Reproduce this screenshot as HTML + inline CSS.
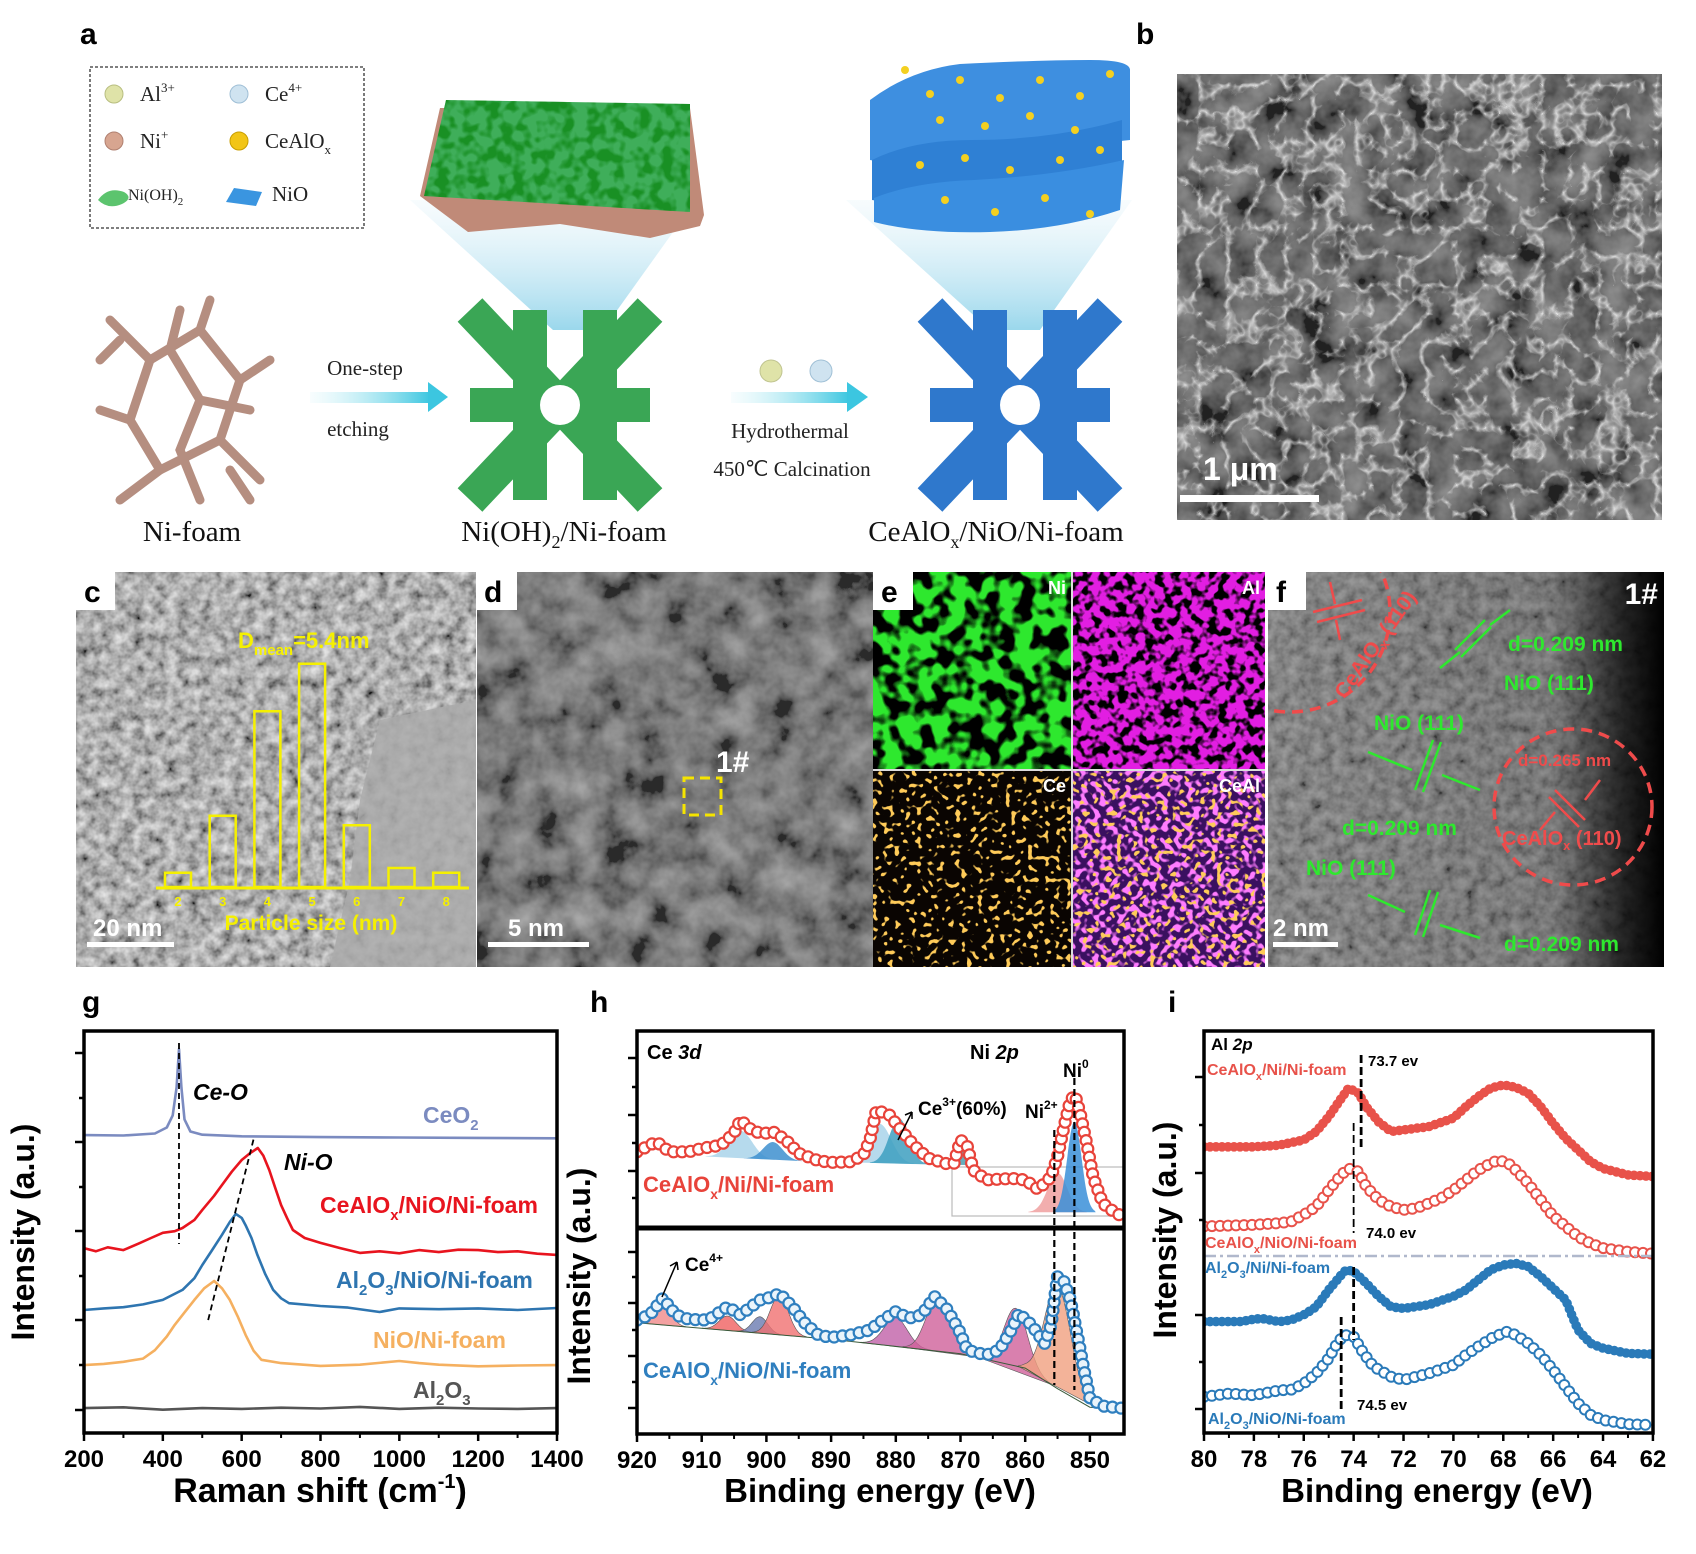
<!DOCTYPE html>
<html><head><meta charset="utf-8">
<style>
html,body{margin:0;padding:0;background:#fff;}
svg{display:block;}
text{font-family:"Liberation Sans",Arial,sans-serif;}
.serif{font-family:"Liberation Serif","Times New Roman",serif;}
</style></head>
<body>
<svg id="fig" xmlns="http://www.w3.org/2000/svg" width="1696" height="1554" viewBox="0 0 1696 1554">
<defs>
<filter id="fGray" x="0" y="0" width="1" height="1"><feTurbulence type="fractalNoise" baseFrequency="0.03" numOctaves="4" seed="5"/><feColorMatrix values="1.4 0 0 0 -0.35  1.4 0 0 0 -0.35  1.4 0 0 0 -0.35  0 0 0 0 1"/></filter>
<filter id="fSem" x="0" y="0" width="1" height="1"><feTurbulence type="turbulence" baseFrequency="0.035" numOctaves="3" seed="9"/><feColorMatrix values="0 0 0 0 1  0 0 0 0 1  0 0 0 0 1  -4 0 0 0 1.0"/></filter>
<filter id="fTem" x="0" y="0" width="1" height="1"><feTurbulence type="fractalNoise" baseFrequency="0.09" numOctaves="3" seed="2"/><feColorMatrix values="1.3 0 0 0 -0.15  1.3 0 0 0 -0.15  1.3 0 0 0 -0.15  0 0 0 0 1"/></filter>
<filter id="fBlk" x="0" y="0" width="1" height="1"><feTurbulence type="fractalNoise" baseFrequency="0.06" numOctaves="2" seed="3"/><feColorMatrix values="0 0 0 0 0  0 0 0 0 0  0 0 0 0 0  7 0 0 0 -3.1"/></filter>
<filter id="fBlk2" x="0" y="0" width="1" height="1"><feTurbulence type="fractalNoise" baseFrequency="0.11" numOctaves="2" seed="7"/><feColorMatrix values="0 0 0 0 0  0 0 0 0 0  0 0 0 0 0  7 0 0 0 -3.3"/></filter>
<filter id="fDots" x="0" y="0" width="1" height="1"><feTurbulence type="fractalNoise" baseFrequency="0.18" numOctaves="1" seed="11"/><feColorMatrix values="0 0 0 0 1  0 0 0 0 0.6  0 0 0 0 0.1  14 0 0 0 -8.2"/></filter>
<filter id="fDots2" x="0" y="0" width="1" height="1"><feTurbulence type="fractalNoise" baseFrequency="0.16" numOctaves="1" seed="21"/><feColorMatrix values="0 0 0 0 1  0 0 0 0 0.2  0 0 0 0 1  10 0 0 0 -5.0"/></filter>
<filter id="fLeaf" x="0" y="0" width="1" height="1"><feTurbulence type="fractalNoise" baseFrequency="0.08" numOctaves="2" seed="4"/><feColorMatrix values="0 0 0 0 0  0 0 0 0 0.2  0 0 0 0 0  5 0 0 0 -2.2"/></filter>
<linearGradient id="cone" x1="0" y1="0" x2="0" y2="1"><stop offset="0" stop-color="#d8eef7" stop-opacity="0.2"/><stop offset="1" stop-color="#8fd3ea" stop-opacity="0.9"/></linearGradient>
<linearGradient id="arr" x1="0" y1="0" x2="1" y2="0"><stop offset="0" stop-color="#b7ecf4" stop-opacity="0.1"/><stop offset="1" stop-color="#3cc6e0"/></linearGradient>
<linearGradient id="fdark" x1="0" y1="0" x2="1" y2="0"><stop offset="0" stop-color="#000" stop-opacity="0"/><stop offset="0.72" stop-color="#000" stop-opacity="0.1"/><stop offset="0.9" stop-color="#000" stop-opacity="0.75"/><stop offset="1" stop-color="#000" stop-opacity="1"/></linearGradient>
<clipPath id="clipF"><rect x="1268" y="572" width="396" height="395"/></clipPath>
<clipPath id="clipG"><rect x="84" y="1031" width="473" height="402"/></clipPath>
<clipPath id="clipHU"><rect x="637" y="1031" width="487" height="197"/></clipPath>
<clipPath id="clipHL"><rect x="637" y="1228" width="487" height="206"/></clipPath>
<clipPath id="clipI"><rect x="1204" y="1031" width="449" height="402"/></clipPath>
<clipPath id="clipLeaf"><polygon points="424,196 690,212 690,104 446,100"/></clipPath>
</defs>

<!-- ============ PANEL A ============ -->
<g>
<text x="80" y="44" font-size="30" font-weight="bold">a</text>
<rect x="90" y="67" width="274" height="161" fill="none" stroke="#333" stroke-width="1.3" stroke-dasharray="3,2"/>
<g class="serif" font-size="21" fill="#222">
<circle cx="114" cy="94" r="9" fill="#dfe3a8" stroke="#b8be80"/><text x="140" y="101" class="serif">Al<tspan font-size="13" dy="-9">3+</tspan></text>
<circle cx="239" cy="94" r="9" fill="#cfe3f0" stroke="#9fbfd6"/><text x="265" y="101" class="serif">Ce<tspan font-size="13" dy="-9">4+</tspan></text>
<circle cx="114" cy="141" r="9" fill="#d7a590" stroke="#b08070"/><text x="140" y="148" class="serif">Ni<tspan font-size="13" dy="-9">+</tspan></text>
<circle cx="239" cy="141" r="9" fill="#f2c516" stroke="#c89e00"/><text x="265" y="148" class="serif">CeAlO<tspan font-size="13" dy="6">x</tspan></text>
<path d="M98 200 q10 -14 26 -8 q10 6 -2 12 q-14 6 -24 -4z" fill="#5cc46e"/><text x="128" y="200" font-size="16" class="serif">Ni(OH)<tspan font-size="11" dy="5">2</tspan></text>
<path d="M226 202 l8 -14 l28 4 l-6 14z" fill="#3a95e0"/><text x="272" y="201" class="serif">NiO</text>
</g>
<polygon points="410,200 696,200 603,330 553,330" fill="url(#cone)"/>
<polygon points="846,200 1132,200 1040,330 990,330" fill="url(#cone)"/>
<g>
<polygon points="420,196 468,232 560,224 650,238 700,226 704,215 690,108 440,108" fill="#c08a78"/>
<polygon points="424,196 690,212 690,104 446,100" fill="#3fae5a"/>
<rect x="424" y="100" width="268" height="112" fill="#000" filter="url(#fLeaf)" opacity="0.6" clip-path="url(#clipLeaf)"/>
</g>
<g>
<path d="M870 100 q40 -30 90 -36 q80 -4 130 -4 q40 0 40 10 l0 70 q-60 6 -130 20 q-80 10 -130 0z" fill="#3e8fe0"/>
<path d="M872 160 q40 -20 100 -20 q80 0 150 -20 l0 60 q-60 10 -130 20 q-80 6 -120 0z" fill="#2f80d4"/>
<path d="M874 198 q40 -16 100 -18 q80 -4 150 -20 l-4 50 q-60 20 -130 22 q-70 2 -116 -10z" fill="#3a8ee0"/>
<g fill="#f4d020"><circle cx="905" cy="70" r="4"/><circle cx="930" cy="94" r="4"/><circle cx="960" cy="80" r="4"/><circle cx="1000" cy="98" r="4"/><circle cx="1040" cy="80" r="4"/><circle cx="1080" cy="96" r="4"/><circle cx="1110" cy="74" r="4"/><circle cx="940" cy="120" r="4"/><circle cx="985" cy="126" r="4"/><circle cx="1030" cy="116" r="4"/><circle cx="1075" cy="130" r="4"/><circle cx="920" cy="165" r="4"/><circle cx="965" cy="158" r="4"/><circle cx="1010" cy="170" r="4"/><circle cx="1060" cy="160" r="4"/><circle cx="1100" cy="150" r="4"/><circle cx="945" cy="200" r="4"/><circle cx="995" cy="212" r="4"/><circle cx="1045" cy="198" r="4"/><circle cx="1090" cy="214" r="4"/></g>
</g>
<g stroke="#b58e80" stroke-width="9" stroke-linecap="round" fill="none">
<path d="M110 320 L150 360 L130 420 L160 470 L120 500"/><path d="M150 360 L200 330 L240 380 L220 440 L260 480"/><path d="M200 330 L210 300"/><path d="M240 380 L270 360"/><path d="M130 420 L100 410"/><path d="M160 470 L220 440"/><path d="M180 310 L170 350 L200 400 L180 450 L200 500"/><path d="M200 400 L250 410"/><path d="M120 340 L100 360"/><path d="M230 470 L250 500"/>
</g>
<g>
<path d="M470 310 L650 500 M650 310 L470 500 M470 405 L650 405 M530 310 L530 500 M600 310 L600 500" stroke="#3aa655" stroke-width="34" fill="none"/>
<circle cx="560" cy="405" r="20" fill="#fff"/>
</g>
<g>
<path d="M930 310 L1110 500 M1110 310 L930 500 M930 405 L1110 405 M990 310 L990 500 M1060 310 L1060 500" stroke="#2f78cc" stroke-width="34" fill="none"/>
<circle cx="1020" cy="405" r="20" fill="#fff"/>
</g>
<g><rect x="310" y="392" width="120" height="11" fill="url(#arr)"/><polygon points="428,382 448,397 428,412" fill="#3cc6e0"/></g>
<g><rect x="731" y="392" width="118" height="11" fill="url(#arr)"/><polygon points="847,382 868,397 847,412" fill="#3cc6e0"/></g>
<circle cx="771" cy="371" r="11" fill="#dfe3a8" stroke="#c0c490"/>
<circle cx="821" cy="371" r="11" fill="#cfe3f0" stroke="#a0c0d6"/>
<g class="serif" fill="#222" font-size="21">
<text x="365" y="375" text-anchor="middle" class="serif">One-step</text>
<text x="358" y="436" text-anchor="middle" class="serif">etching</text>
<text x="790" y="438" text-anchor="middle" class="serif">Hydrothermal</text>
<text x="792" y="476" text-anchor="middle" class="serif">450℃ Calcination</text>
</g>
<g class="serif" fill="#111" font-size="29">
<text x="192" y="541" text-anchor="middle" class="serif">Ni-foam</text>
<text x="564" y="541" text-anchor="middle" class="serif">Ni(OH)<tspan font-size="18" dy="7">2</tspan><tspan dy="-7">/Ni-foam</tspan></text>
<text x="996" y="541" text-anchor="middle" class="serif">CeAlO<tspan font-size="18" dy="7">x</tspan><tspan dy="-7">/NiO/Ni-foam</tspan></text>
</g>
</g>

<!-- ============ PANEL B ============ -->
<g>
<text x="1136" y="44" font-size="30" font-weight="bold">b</text>
<rect x="1177" y="74" width="485" height="446" fill="#3e3e3e"/>
<rect x="1177" y="74" width="485" height="446" fill="#777" filter="url(#fGray)" opacity="0.45"/>
<rect x="1177" y="74" width="485" height="446" fill="#fff" filter="url(#fSem)" opacity="0.75"/>
<text x="1203" y="480" font-size="32" font-weight="bold" fill="#fff">1 μm</text>
<rect x="1180" y="495" width="139" height="7" fill="#fff"/>
</g>

<!-- ============ PANEL C ============ -->
<g>
<rect x="76" y="572" width="400" height="395" fill="#7a7a7a"/>
<rect x="76" y="572" width="400" height="395" fill="#888" filter="url(#fTem)" opacity="0.8"/>
<polygon points="380,720 476,700 476,967 330,967 350,880 360,800" fill="#aaa" opacity="0.85"/>
<rect x="76" y="572" width="39" height="38" fill="#fff"/>
<text x="84" y="602" font-size="30" font-weight="bold">c</text>
<g id="hist"></g>
<text x="93" y="936" font-size="24" font-weight="bold" fill="#fff">20 nm</text>
<rect x="87" y="942" width="87" height="5" fill="#fff"/>
</g>

<!-- ============ PANEL D ============ -->
<g>
<rect x="477" y="572" width="397" height="395" fill="#555"/>
<rect x="477" y="572" width="397" height="395" fill="#777" filter="url(#fGray)" opacity="0.5"/>
<rect x="477" y="572" width="40" height="38" fill="#fff"/>
<text x="484" y="602" font-size="30" font-weight="bold">d</text>
<text x="716" y="772" font-size="30" font-weight="bold" fill="#fff">1#</text>
<rect x="684" y="778" width="37" height="37" fill="none" stroke="#f5e400" stroke-width="3" stroke-dasharray="10,6"/>
<text x="508" y="936" font-size="24" font-weight="bold" fill="#fff">5 nm</text>
<rect x="488" y="942" width="101" height="5" fill="#fff"/>
</g>

<!-- ============ PANEL E ============ -->
<g>
<rect x="873" y="572" width="198" height="197" fill="#2ee82e"/>
<rect x="873" y="572" width="198" height="197" fill="#000" filter="url(#fBlk)"/>
<rect x="1073" y="572" width="192" height="197" fill="#e21ee2"/>
<rect x="1073" y="572" width="192" height="197" fill="#000" filter="url(#fBlk2)"/>
<rect x="873" y="771" width="198" height="196" fill="#0a0502"/>
<rect x="873" y="771" width="198" height="196" fill="#000" filter="url(#fDots)"/>
<rect x="1073" y="771" width="192" height="196" fill="#3a1060"/>
<rect x="1073" y="771" width="192" height="196" fill="#000" filter="url(#fDots2)"/>
<rect x="1073" y="771" width="192" height="196" fill="#000" filter="url(#fDots)"/>
<rect x="1071" y="572" width="2" height="395" fill="#ddd"/><rect x="873" y="769" width="392" height="2" fill="#ddd"/>
<rect x="873" y="572" width="40" height="38" fill="#fff"/>
<text x="881" y="602" font-size="30" font-weight="bold">e</text>
<g font-size="18" font-weight="bold" fill="#fff" text-anchor="end">
<text x="1066" y="594">Ni</text>
<text x="1260" y="594">Al</text>
<text x="1066" y="792">Ce</text>
<text x="1260" y="792">CeAl</text>
</g>
</g>

<!-- ============ PANEL F ============ -->
<g>
<rect x="1268" y="572" width="396" height="395" fill="#606060"/>
<rect x="1268" y="572" width="396" height="395" fill="#666" filter="url(#fTem)" opacity="0.4"/>
<rect x="1268" y="572" width="396" height="395" fill="url(#fdark)"/>
<g clip-path="url(#clipF)">
<circle cx="1290" cy="612" r="100" fill="none" stroke="#ef4b4b" stroke-width="3.5" stroke-dasharray="11,7"/>
</g>
<ellipse cx="1573" cy="807" rx="79" ry="78" fill="none" stroke="#ef4b4b" stroke-width="3.5" stroke-dasharray="11,7"/>
<rect x="1268" y="572" width="38" height="38" fill="#fff"/>
<text x="1276" y="602" font-size="30" font-weight="bold">f</text>
<text x="1658" y="604" font-size="30" font-weight="bold" fill="#fff" text-anchor="end">1#</text>
<text transform="translate(1345,700) rotate(-55)" font-size="21" font-weight="bold" fill="#ef4b4b">CeAlO<tspan font-size="14" dy="5">x</tspan><tspan dy="-5"> (110)</tspan></text>
<g stroke="#ef4b4b" stroke-width="2.5" fill="none"><path d="M1313 612 L1362 600 M1317 622 L1365 610 M1330 582 L1335 604 M1340 640 L1336 620"/></g>
<g stroke="#2ee82e" stroke-width="2.5" fill="none">
<path d="M1455 650 L1485 620 M1461 657 L1491 627"/><path d="M1510 610 L1490 625 M1440 668 L1460 652"/>
<path d="M1415 790 L1433 740 M1423 792 L1441 742"/><path d="M1368 752 L1412 770 M1480 790 L1442 775"/>
<path d="M1415 935 L1430 890 M1423 937 L1438 892"/><path d="M1368 895 L1405 912 M1480 938 L1440 925"/>
</g>
<g stroke="#ef4b4b" stroke-width="2.5" fill="none"><path d="M1555 790 L1585 820 M1549 797 L1579 827 M1600 780 L1585 800 M1540 830 L1555 812"/></g>
<g font-size="21" font-weight="bold" fill="#2ee82e">
<text x="1508" y="651">d=0.209 nm</text>
<text x="1504" y="690">NiO (111)</text>
<text x="1374" y="730">NiO (111)</text>
<text x="1342" y="835">d=0.209 nm</text>
<text x="1306" y="875">NiO (111)</text>
<text x="1504" y="951">d=0.209 nm</text>
</g>
<text x="1518" y="766" font-size="17" font-weight="bold" fill="#ef4b4b">d=0.265 nm</text>
<text x="1502" y="845" font-size="20" font-weight="bold" fill="#ef4b4b">CeAlO<tspan font-size="13" dy="5">x</tspan><tspan dy="-5"> (110)</tspan></text>
<text x="1273" y="936" font-size="24" font-weight="bold" fill="#fff">2 nm</text>
<rect x="1273" y="942" width="65" height="5" fill="#fff"/>
</g>

<!-- ============ CHART PANELS ============ -->
<text x="82" y="1012" font-size="30" font-weight="bold">g</text>
<text x="590" y="1012" font-size="30" font-weight="bold">h</text>
<text x="1168" y="1012" font-size="30" font-weight="bold">i</text>
<g id="chartG"></g>
<g id="chartH"></g>
<g id="chartI"></g>
</svg>

<script>
// ---------- histogram data (panel c) ----------
const histSizes = [2, 3, 4, 5, 6, 7, 8];
const histCounts = [3, 15, 37, 47, 13, 4, 3];

// ---------- Raman data (panel g) ----------
const ramanTicks = [200, 400, 600, 800, 1000, 1200, 1400];
const ramanCeO2 = [[200,7.41],[300,7.40],[380,7.45],[410,7.6],[425,7.9],[435,8.6],[441,9.55],[447,8.6],[455,7.8],[470,7.5],[500,7.42],[600,7.38],[800,7.36],[1000,7.35],[1200,7.34],[1400,7.33]];
const ramanCeAlOx = [[200,4.60],[230,4.52],[260,4.62],[300,4.55],[340,4.72],[370,4.85],[400,4.98],[430,5.02],[450,5.10],[480,5.30],[500,5.55],[530,5.90],[550,6.17],[575,6.50],[600,6.79],[620,6.95],[641,7.09],[655,6.90],[670,6.54],[685,6.10],[700,5.67],[715,5.35],[730,5.05],[760,4.85],[800,4.73],[850,4.60],[900,4.48],[950,4.52],[1000,4.47],[1050,4.55],[1100,4.50],[1150,4.56],[1200,4.55],[1250,4.50],[1300,4.52],[1350,4.46],[1400,4.43]];
const ramanAl2O3NiO = [[200,3.06],[250,3.10],[300,3.13],[350,3.20],[400,3.31],[450,3.56],[480,3.85],[500,4.18],[525,4.55],[550,4.93],[570,5.25],[585,5.45],[600,5.35],[610,5.17],[625,4.85],[640,4.43],[660,3.95],[680,3.56],[700,3.35],[720,3.23],[800,3.16],[870,3.12],[950,3.01],[1000,3.10],[1100,3.08],[1200,3.10],[1300,3.06],[1400,3.11]];
const ramanNiO = [[200,1.69],[250,1.72],[300,1.77],[350,1.85],[380,2.06],[410,2.40],[430,2.69],[455,3.00],[480,3.31],[505,3.60],[530,3.78],[550,3.60],[570,3.31],[590,2.90],[610,2.44],[630,2.05],[650,1.82],[700,1.74],[800,1.67],[900,1.70],[1000,1.79],[1050,1.74],[1100,1.70],[1200,1.66],[1300,1.68],[1400,1.69]];
const ramanAl2O3 = [[200,0.62],[300,0.64],[400,0.58],[500,0.62],[600,0.60],[700,0.63],[800,0.61],[900,0.65],[1000,0.60],[1100,0.63],[1200,0.61],[1300,0.60],[1400,0.62]];

// ---------- XPS Ce 3d / Ni 2p data (panel h) ----------
const xpsHTicks = [920, 910, 900, 890, 880, 870, 860, 850];
const xpsCeNiReduced = [[920,3.87],[917,4.38],[915,3.87],[912,3.87],[910,4.04],[907,4.21],[905,4.81],[904,5.48],[902,4.89],[900,4.81],[899,4.89],[897,4.47],[895,3.79],[892,3.42],[890,3.33],[887,3.36],[885,3.71],[884,4.47],[883,5.99],[881,5.74],[879,4.89],[877,4.13],[875,3.55],[872,3.25],[871,3.28],[870,4.47],[869,4.21],[868,2.94],[866,2.44],[862,2.52],[860,2.44],[858,1.96],[856,2.60],[855,3.62],[854,5.14],[853,6.50],[852.3,6.75],[851.5,5.82],[850.5,4.30],[849.5,2.60],[848,1.25],[846,0.75],[845,0.61]];
const xpsCeNiOxide = [[920,5.53],[918,5.78],[916,6.59],[914,5.78],[912,5.57],[909,5.53],[906,6.18],[904,5.78],[902,6.26],[901,6.50],[899,6.67],[898,6.83],[896,6.18],[894,5.37],[892,4.81],[890,4.69],[887,4.81],[884,5.05],[882,5.53],[880,5.94],[878,5.62],[876,5.78],[874,6.67],[872,6.02],[870,4.89],[869,4.08],[866,3.83],[864,4.08],[862,5.13],[861,5.86],[859,5.29],[857,4.40],[856,5.29],[855,7.64],[854,7.40],[853,6.50],[852,4.89],[851,3.27],[850,1.73],[848,1.36],[845,1.25]];
const fitUpperCenters = [904, 899, 882.5, 879.5, 870, 855, 852.4];
const fitUpperHeights = [1.4, 0.9, 2.0, 2.3, 1.0, 2.0, 4.6];
const fitUpperWidths = [1.8, 1.5, 1.8, 1.5, 0.8, 1.5, 1.1];
const fitUpperColors = ['#a9d3ea','#3d8fcf','#a9d3ea','#3d9fc0','#4a9fb0','#f0a0a0','#3a8fd8'];
const fitLowerCenters = [916, 906, 901, 898, 880, 873.5, 861.5, 855];
const fitLowerHeights = [1.1, 0.7, 0.8, 1.9, 1.4, 2.6, 2.8, 5.0];
const fitLowerWidths = [1.2, 1.3, 1.2, 1.4, 1.8, 1.8, 1.8, 2.0];
const fitLowerColors = ['#f08a8a','#f06060','#6a7ab0','#f07070','#c060a8','#d0609a','#d0609a','#f0a080'];
const upperBaseline = [[920,3.8],[895,3.4],[872,3.2]];
const lowerBaseline = [[920,5.4],[890,4.6],[870,3.9],[860,3.2],[855,2.2],[850,1.3],[845,1.2]];

// ---------- XPS Al 2p data (panel i) ----------
const xpsITicks = [80, 78, 76, 74, 72, 70, 68, 66, 64, 62];
const alCeNi = [[80,7.12],[78,7.12],[77,7.16],[76,7.29],[75.5,7.50],[75,7.87],[74.5,8.32],[74.2,8.58],[73.8,8.45],[73.5,8.12],[73,7.74],[72.5,7.50],[72,7.54],[71,7.62],[70,7.83],[69.5,8.12],[69,8.37],[68.5,8.58],[68,8.66],[67.5,8.60],[67,8.45],[66.5,8.12],[66,7.70],[65.5,7.33],[65,7.04],[64.5,6.75],[64,6.58],[63,6.42],[62,6.38]];
const alCeNiO = [[80,5.14],[78,5.18],[77,5.22],[76.5,5.26],[76,5.43],[75.5,5.63],[75,6.04],[74.5,6.42],[74.2,6.58],[73.8,6.50],[73.5,6.13],[73,5.80],[72.5,5.63],[72,5.55],[71.5,5.59],[71,5.71],[70.5,5.84],[70,6.04],[69.5,6.29],[69,6.54],[68.5,6.71],[68.2,6.79],[67.8,6.71],[67.5,6.54],[67,6.21],[66.5,5.80],[66,5.39],[65.5,5.14],[65,4.88],[64.5,4.72],[64,4.60],[63,4.51],[62,4.46]];
const alAlNi = [[80,2.77],[78.5,2.77],[78,2.83],[77.7,2.85],[77,2.77],[76.5,2.81],[76,2.94],[75.5,3.14],[75,3.56],[74.5,3.93],[74.3,4.06],[74,4.02],[73.5,3.73],[73,3.40],[72.5,3.14],[72,3.10],[71,3.19],[70,3.40],[69.5,3.56],[69,3.81],[68.5,4.06],[68,4.18],[67.5,4.22],[67,4.14],[66.5,3.89],[66,3.60],[65.5,3.31],[65,2.56],[64.5,2.23],[64,2.11],[63,1.98],[62,1.96]];
const alAlNiO = [[80,0.90],[79,0.98],[78,0.94],[77,1.06],[76.5,1.08],[76,1.23],[75.5,1.48],[75,1.86],[74.7,2.19],[74.4,2.44],[74,2.40],[73.6,1.98],[73.2,1.65],[72.5,1.40],[72,1.32],[71,1.48],[70,1.69],[69.5,1.94],[69,2.15],[68.5,2.35],[67.9,2.52],[67.5,2.44],[67,2.23],[66.5,1.94],[66,1.57],[65.5,1.15],[65,0.74],[64.5,0.45],[64,0.32],[63,0.22],[62,0.20]];
const alPeakPositions = [73.7, 74.0, 74.0, 74.5];

// ================= rendering =================
const NS = 'http://www.w3.org/2000/svg';
function mk(tag, parent, attrs) {
  const e = document.createElementNS(NS, tag);
  for (const k in attrs) e.setAttribute(k, attrs[k]);
  parent.appendChild(e);
  return e;
}
function pathD(pts, sx, sy) {
  return pts.map((p, i) => (i ? 'L' : 'M') + sx(p[0]).toFixed(1) + ' ' + sy(p[1]).toFixed(1)).join(' ');
}
function markersAlong(parent, pathEl, step, r, fill, stroke, sw, name) {
  const L = pathEl.getTotalLength();
  for (let s = 0; s <= L; s += step) {
    const p = pathEl.getPointAtLength(s);
    const c = mk('circle', parent, {cx: p.x.toFixed(1), cy: p.y.toFixed(1), r: r, fill: fill, stroke: stroke, 'stroke-width': sw});
    
    
  }
}
function addText(parent, x, y, str, attrs, name) {
  const t = mk('text', parent, Object.assign({x: x, y: y}, attrs));
  t.textContent = str;
  
  
  return t;
}

(function () {
  const g = document.getElementById('hist');
  const hx = s => 178 + (s - 2) * 44.7;
  const hy = c => 887 - c * 4.75;
  histSizes.forEach((s, i) => {
    const b = mk('rect', g, {x: hx(s) - 13, y: hy(histCounts[i]), width: 26, height: 887 - hy(histCounts[i]), fill: 'none', stroke: '#f5f000', 'stroke-width': 2.5});
    
    
    addText(g, hx(s), 906, String(s), {'font-size': 13, 'font-weight': 'bold', fill: '#f5f000', 'text-anchor': 'middle'}, 'histogram-tick-label');
  });
  const ax = mk('line', g, {x1: 156, y1: 888, x2: 469, y2: 888, stroke: '#f5f000', 'stroke-width': 3});
  
  
  addText(g, 311, 930, 'Particle size (nm)', {'font-size': 21, 'font-weight': 'bold', fill: '#f5f000', 'text-anchor': 'middle'}, 'histogram-x-title');
  const t = addText(g, 238, 648, 'D', {'font-size': 22, 'font-weight': 'bold', fill: '#f5f000'}, 'mean-diameter-label');
  const ts = mk('tspan', t, {'font-size': 15, dy: 7}); ts.textContent = 'mean';
  const ts2 = mk('tspan', t, {dy: -7}); ts2.textContent = '=5.4nm';
})();

function xAxis(g, ticks, sx, minorStep, yBase, name) {
  ticks.forEach(v => {
    const l = mk('line', g, {x1: sx(v), y1: yBase, x2: sx(v), y2: yBase + 8, stroke: '#000', 'stroke-width': 2.5});
    
    
    addText(g, sx(v), yBase + 34, String(v), {'font-size': 24, 'font-weight': 'bold', 'text-anchor': 'middle'}, name + '-tick-label');
    const m = v + minorStep;
    if ((minorStep > 0 && m < ticks[ticks.length - 1]) || (minorStep < 0 && m > ticks[ticks.length - 1])) {
      const l2 = mk('line', g, {x1: sx(m), y1: yBase, x2: sx(m), y2: yBase + 5, stroke: '#000', 'stroke-width': 2});
      
      
    }
  });
}
function yTicks(g, x, ys) {
  ys.forEach((y, i) => {
    const l = mk('line', g, {x1: x, y1: y, x2: x - (i % 2 ? 5 : 9), y2: y, stroke: '#000', 'stroke-width': 2.5});
    
    
  });
}
function yTitle(g, x, y) {
  return addText(g, 0, 0, 'Intensity (a.u.)', {'font-size': 32, 'font-weight': 'bold', 'text-anchor': 'middle', transform: 'translate(' + x + ',' + y + ') rotate(-90)'}, 'y-axis-title');
}

// ----- panel g -----
(function () {
  const g = document.getElementById('chartG');
  const sx = v => 84 + (v - 200) / 1200 * 473;
  const sy = u => 1433 - u * 40.2;
  const clip = mk('g', g, {'clip-path': 'url(#clipG)'});
  const series = [[ramanCeO2, '#7b8bc0', 'series-ceo2'], [ramanCeAlOx, '#e8141e', 'series-ceaox-nio'], [ramanAl2O3NiO, '#2e75b0', 'series-al2o3-nio'], [ramanNiO, '#f5b060', 'series-nio'], [ramanAl2O3, '#555555', 'series-al2o3']];
  series.forEach(s => {
    const p = mk('path', clip, {d: pathD(s[0], sx, sy), fill: 'none', stroke: s[1], 'stroke-width': 2.6, 'stroke-linejoin': 'round'});
    
    
  });
  const d1 = mk('line', g, {x1: sx(441), y1: sy(9.7), x2: sx(441), y2: sy(4.7), stroke: '#000', 'stroke-width': 1.8, 'stroke-dasharray': '6,4'});
  
  
  const d2 = mk('line', g, {x1: sx(515), y1: sy(2.81), x2: sx(630), y2: sy(7.3), stroke: '#000', 'stroke-width': 1.8, 'stroke-dasharray': '6,4'});
  
  
  const fr = mk('rect', g, {x: 84, y: 1031, width: 473, height: 402, fill: 'none', stroke: '#000', 'stroke-width': 3.5});
  
  
  xAxis(g, ramanTicks, sx, 100, 1433, 'raman-x');
  yTicks(g, 84, [1053, 1098, 1142, 1187, 1231, 1276, 1320, 1365, 1410]);
  const xt = addText(g, 320, 1502, 'Raman shift (cm', {'font-size': 34, 'font-weight': 'bold', 'text-anchor': 'middle'}, 'x-axis-title');
  const a = mk('tspan', xt, {'font-size': 20, dy: -14}); a.textContent = '-1';
  const b = mk('tspan', xt, {dy: 14}); b.textContent = ')';
  yTitle(g, 34, 1232);
  addText(g, 193, 1100, 'Ce-O', {'font-size': 23, 'font-weight': 'bold', 'font-style': 'italic'}, 'ce-o-label');
  addText(g, 284, 1170, 'Ni-O', {'font-size': 23, 'font-weight': 'bold', 'font-style': 'italic'}, 'ni-o-label');
  const c1 = addText(g, 423, 1123, 'CeO', {'font-size': 23, 'font-weight': 'bold', fill: '#7b8bc0'}, 'ceo2-label');
  const c1s = mk('tspan', c1, {'font-size': 15, dy: 7}); c1s.textContent = '2';
  const c2 = addText(g, 320, 1213, 'CeAlO', {'font-size': 23, 'font-weight': 'bold', fill: '#e8141e'}, 'ceaox-nio-label');
  const c2s = mk('tspan', c2, {'font-size': 15, dy: 7}); c2s.textContent = 'x';
  const c2t = mk('tspan', c2, {dy: -7}); c2t.textContent = '/NiO/Ni-foam';
  const c3 = addText(g, 336, 1288, 'Al', {'font-size': 23, 'font-weight': 'bold', fill: '#2e75b0'}, 'al2o3-nio-label');
  const c3a = mk('tspan', c3, {'font-size': 15, dy: 7}); c3a.textContent = '2';
  const c3b = mk('tspan', c3, {dy: -7}); c3b.textContent = 'O';
  const c3c = mk('tspan', c3, {'font-size': 15, dy: 7}); c3c.textContent = '3';
  const c3d = mk('tspan', c3, {dy: -7}); c3d.textContent = '/NiO/Ni-foam';
  addText(g, 373, 1348, 'NiO/Ni-foam', {'font-size': 23, 'font-weight': 'bold', fill: '#f5b060'}, 'nio-label');
  const c5 = addText(g, 413, 1398, 'Al', {'font-size': 23, 'font-weight': 'bold', fill: '#555'}, 'al2o3-label');
  const c5a = mk('tspan', c5, {'font-size': 15, dy: 7}); c5a.textContent = '2';
  const c5b = mk('tspan', c5, {dy: -7}); c5b.textContent = 'O';
  const c5c = mk('tspan', c5, {'font-size': 15, dy: 7}); c5c.textContent = '3';
})();

// ----- panel h -----
function gauss(center, h, w, baseFn, sx, sy) {
  const pts = [];
  for (let e = center + 3 * w; e >= center - 3 * w; e -= w / 8) {
    pts.push([e, baseFn(e) + h * Math.exp(-0.5 * ((e - center) / w) ** 2)]);
  }
  const back = [[center - 3 * w, baseFn(center - 3 * w)], [center + 3 * w, baseFn(center + 3 * w)]];
  return pathD(pts.concat(back), sx, sy) + ' Z';
}
function interpBase(arr) {
  return e => {
    for (let i = 0; i < arr.length - 1; i++) {
      const a = arr[i], b = arr[i + 1];
      if (e <= a[0] && e >= b[0]) return a[1] + (b[1] - a[1]) * (a[0] - e) / (a[0] - b[0]);
    }
    return e > arr[0][0] ? arr[0][1] : arr[arr.length - 1][1];
  };
}
(function () {
  const g = document.getElementById('chartH');
  const sx = e => 637 + (920 - e) * 6.47;
  const syU = u => 1228 - u * 19.7;
  const syL = u => 1434 - u * 20.6;
  const gu = mk('g', g, {'clip-path': 'url(#clipHU)'});
  const gl = mk('g', g, {'clip-path': 'url(#clipHL)'});
  const bu = interpBase(upperBaseline);
  const bl = interpBase(lowerBaseline);
  const box = mk('rect', gu, {x: 952, y: 1167, width: 172, height: 49, fill: 'none', stroke: '#bbb', 'stroke-width': 1.2});
  
  
  fitUpperCenters.forEach((c, i) => {
    const base = c < 860 ? (e => 0.8) : bu;
    const p = mk('path', gu, {d: gauss(c, fitUpperHeights[i], fitUpperWidths[i], base, sx, syU), fill: fitUpperColors[i], 'fill-opacity': 0.85, stroke: 'none'});
    
    
  });
  fitLowerCenters.forEach((c, i) => {
    const p = mk('path', gl, {d: gauss(c, fitLowerHeights[i], fitLowerWidths[i], bl, sx, syL), fill: fitLowerColors[i], 'fill-opacity': 0.8, stroke: '#555', 'stroke-width': 0.6});
    
    
  });
  const blp = mk('path', gl, {d: pathD(lowerBaseline, sx, syL), fill: 'none', stroke: '#3a5a3a', 'stroke-width': 1});
  
  
  const pu = mk('path', gu, {d: pathD(xpsCeNiReduced, sx, syU), fill: 'none', stroke: '#e8433a', 'stroke-width': 1});
  
  
  markersAlong(gu, pu, 8.5, 5.5, '#fff', '#e8433a', 2.2, 'ceaox-ni-marker');
  const pl = mk('path', gl, {d: pathD(xpsCeNiOxide, sx, syL), fill: 'none', stroke: '#2f7fbf', 'stroke-width': 1});
  
  
  markersAlong(gl, pl, 8.5, 5.5, '#eaf4fb', '#2f7fbf', 2.2, 'ceaox-nio-marker');
  const f1 = mk('rect', g, {x: 637, y: 1031, width: 487, height: 403, fill: 'none', stroke: '#000', 'stroke-width': 3.5});
  
  
  const dv = mk('line', g, {x1: 637, y1: 1228, x2: 1124, y2: 1228, stroke: '#000', 'stroke-width': 5});
  
  
  const n2 = mk('line', g, {x1: sx(855.5), y1: 1130, x2: sx(855.5), y2: 1385, stroke: '#000', 'stroke-width': 2.2, 'stroke-dasharray': '7,4'});
  
  
  const n0 = mk('line', g, {x1: sx(852.4), y1: 1078, x2: sx(852.4), y2: 1390, stroke: '#000', 'stroke-width': 2.2, 'stroke-dasharray': '7,4'});
  
  
  xAxis(g, xpsHTicks, sx, -5, 1434, 'xps-h-x');
  yTicks(g, 637, [1058, 1087, 1115, 1143, 1171, 1198]);
  yTicks(g, 637, [1252, 1277, 1303, 1330, 1356, 1382, 1408]);
  addText(g, 880, 1502, 'Binding energy (eV)', {'font-size': 33, 'font-weight': 'bold', 'text-anchor': 'middle'}, 'x-axis-title');
  yTitle(g, 590, 1276);
  const t1 = addText(g, 647, 1059, 'Ce ', {'font-size': 20, 'font-weight': 'bold'}, 'ce3d-label');
  const t1b = mk('tspan', t1, {'font-style': 'italic'}); t1b.textContent = '3d';
  const t2 = addText(g, 970, 1059, 'Ni ', {'font-size': 20, 'font-weight': 'bold'}, 'ni2p-label');
  const t2b = mk('tspan', t2, {'font-style': 'italic'}); t2b.textContent = '2p';
  const t3 = addText(g, 1063, 1077, 'Ni', {'font-size': 19, 'font-weight': 'bold'}, 'ni0-label');
  const t3b = mk('tspan', t3, {'font-size': 12, dy: -9}); t3b.textContent = '0';
  const t4 = addText(g, 1025, 1118, 'Ni', {'font-size': 19, 'font-weight': 'bold'}, 'ni2-label');
  const t4b = mk('tspan', t4, {'font-size': 12, dy: -9}); t4b.textContent = '2+';
  const t5 = addText(g, 918, 1115, 'Ce', {'font-size': 19, 'font-weight': 'bold'}, 'ce3-label');
  const t5b = mk('tspan', t5, {'font-size': 12, dy: -9}); t5b.textContent = '3+';
  const t5c = mk('tspan', t5, {dy: 9}); t5c.textContent = '(60%)';
  const a1 = mk('path', g, {d: 'M898 1140 L912 1112 M912 1112 l-7 3 M912 1112 l0 7', stroke: '#000', 'stroke-width': 1.5, fill: 'none'});
  
  
  const t6 = addText(g, 685, 1271, 'Ce', {'font-size': 19, 'font-weight': 'bold'}, 'ce4-label');
  const t6b = mk('tspan', t6, {'font-size': 12, dy: -9}); t6b.textContent = '4+';
  const a2 = mk('path', g, {d: 'M662 1297 L677 1262 M677 1262 l-7 4 M677 1262 l1 8', stroke: '#000', 'stroke-width': 1.5, fill: 'none'});
  
  
  const t7 = addText(g, 643, 1192, 'CeAlO', {'font-size': 22, 'font-weight': 'bold', fill: '#e8433a'}, 'ceaox-ni-label');
  const t7b = mk('tspan', t7, {'font-size': 14, dy: 7}); t7b.textContent = 'x';
  const t7c = mk('tspan', t7, {dy: -7}); t7c.textContent = '/Ni/Ni-foam';
  const t8 = addText(g, 643, 1378, 'CeAlO', {'font-size': 22, 'font-weight': 'bold', fill: '#2f7fbf'}, 'ceaox-nio-label');
  const t8b = mk('tspan', t8, {'font-size': 14, dy: 7}); t8b.textContent = 'x';
  const t8c = mk('tspan', t8, {dy: -7}); t8c.textContent = '/NiO/Ni-foam';
})();

// ----- panel i -----
(function () {
  const g = document.getElementById('chartI');
  const sx = e => 1204 + (80 - e) * 24.94;
  const sy = u => 1433 - u * 40.2;
  const clip = mk('g', g, {'clip-path': 'url(#clipI)'});
  const sep = mk('line', g, {x1: 1204, y1: 1256, x2: 1653, y2: 1256, stroke: '#b0b8cc', 'stroke-width': 2.5, 'stroke-dasharray': '12,4,3,4'});
  
  
  const defs = [[alCeNi, '#e8524a', true, 'series-ceaox-ni'], [alCeNiO, '#e8524a', false, 'series-ceaox-nio'], [alAlNi, '#2a7ab9', true, 'series-al2o3-ni'], [alAlNiO, '#2a7ab9', false, 'series-al2o3-nio']];
  defs.forEach(d => {
    const p = mk('path', clip, {d: pathD(d[0], sx, sy), fill: 'none', stroke: d[1], 'stroke-width': 1});
    
    
    if (d[2]) markersAlong(clip, p, 6, 4.2, d[1], d[1], 1.2, d[3] + '-marker');
    else markersAlong(clip, p, 8, 5, '#fff', d[1], 2, d[3] + '-marker');
  });
  const guideY = [[1055, 1150], [1123, 1233], [1267, 1340], [1317, 1413]];
  alPeakPositions.forEach((e, i) => {
    const l = mk('line', g, {x1: sx(e), y1: guideY[i][0], x2: sx(e), y2: guideY[i][1], stroke: '#000', 'stroke-width': i === 1 ? 1.8 : 2.8, 'stroke-dasharray': '8,4'});
    
    
  });
  const fr = mk('rect', g, {x: 1204, y: 1031, width: 449, height: 402, fill: 'none', stroke: '#000', 'stroke-width': 3.5});
  
  
  xAxis(g, xpsITicks, sx, -1, 1433, 'xps-i-x');
  yTicks(g, 1204, [1077, 1125, 1173, 1220, 1315, 1362, 1409]);
  addText(g, 1437, 1502, 'Binding energy (eV)', {'font-size': 33, 'font-weight': 'bold', 'text-anchor': 'middle'}, 'x-axis-title');
  yTitle(g, 1176, 1230);
  const t1 = addText(g, 1211, 1050, 'Al ', {'font-size': 17, 'font-weight': 'bold'}, 'al2p-label');
  const t1b = mk('tspan', t1, {'font-style': 'italic'}); t1b.textContent = '2p';
  addText(g, 1368, 1066, alPeakPositions[0].toFixed(1) + ' ev', {'font-size': 15, 'font-weight': 'bold'}, 'peak-label-73-7');
  addText(g, 1366, 1238, alPeakPositions[1].toFixed(1) + ' ev', {'font-size': 15, 'font-weight': 'bold'}, 'peak-label-74-0');
  addText(g, 1357, 1410, alPeakPositions[3].toFixed(1) + ' ev', {'font-size': 15, 'font-weight': 'bold'}, 'peak-label-74-5');
  function lab(x, y, parts, color, name) {
    const t = addText(g, x, y, parts[0], {'font-size': 16, 'font-weight': 'bold', fill: color}, name);
    for (let k = 1; k < parts.length; k++) {
      const sub = k % 2 === 1;
      const ts = mk('tspan', t, {'font-size': sub ? 11 : 16, dy: sub ? 5 : -5});
      ts.textContent = parts[k];
    }
  }
  lab(1207, 1075, ['CeAlO', 'x', '/Ni/Ni-foam'], '#e8524a', 'ceaox-ni-label');
  lab(1205, 1248, ['CeAlO', 'x', '/NiO/Ni-foam'], '#e8524a', 'ceaox-nio-label');
  lab(1205, 1273, ['Al', '2', 'O', '3', '/Ni/Ni-foam'], '#2a7ab9', 'al2o3-ni-label');
  lab(1208, 1424, ['Al', '2', 'O', '3', '/NiO/Ni-foam'], '#2a7ab9', 'al2o3-nio-label');
})();
</script>
</body></html>
